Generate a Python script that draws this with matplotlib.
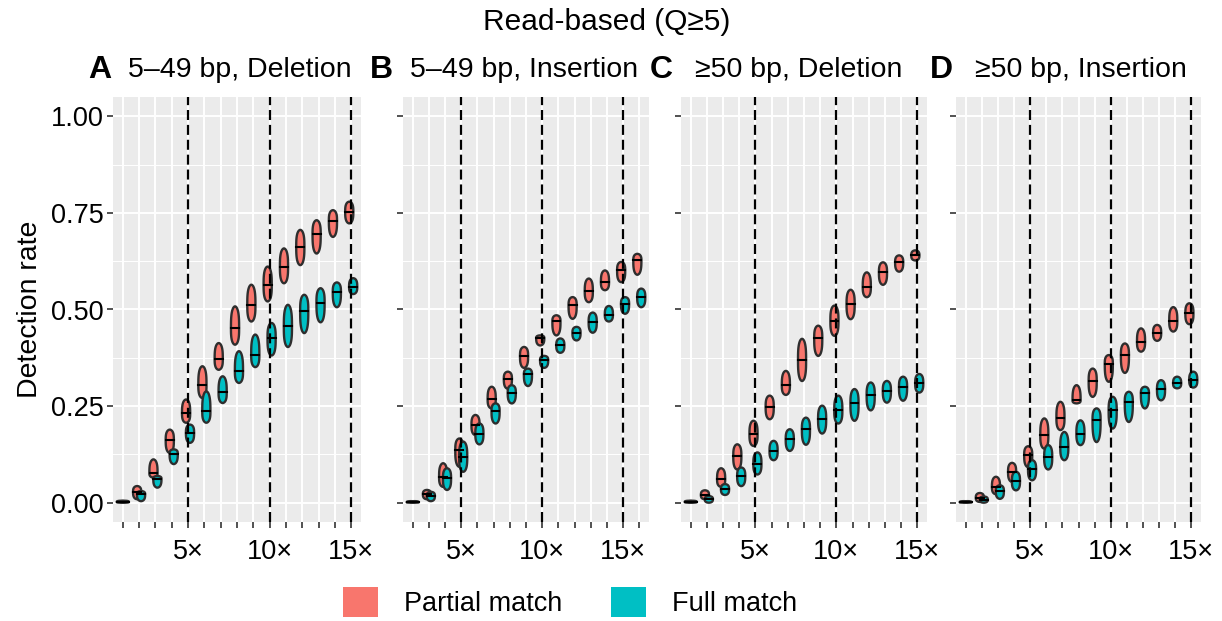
import numpy as np
import matplotlib
matplotlib.use('Agg')
import matplotlib.pyplot as plt
from matplotlib.patches import Patch

plt.rcParams['font.family'] = ['Liberation Sans', 'DejaVu Sans']

# coverage levels 1..15 (discrete positions)
positions = list(range(1, 16))

# per panel: (low, median, high) of detection rate
# Panel A: 5-49 bp, Deletion
a_part_lo = [0.000, 0.009, 0.065, 0.129, 0.207, 0.271, 0.344, 0.409, 0.469, 0.521, 0.568, 0.615, 0.645, 0.688, 0.723]
a_part_md = [0.002, 0.028, 0.077, 0.162, 0.232, 0.305, 0.372, 0.452, 0.512, 0.564, 0.611, 0.663, 0.695, 0.730, 0.753]
a_part_hi = [0.005, 0.043, 0.112, 0.189, 0.267, 0.353, 0.413, 0.508, 0.564, 0.611, 0.658, 0.706, 0.731, 0.757, 0.779]
a_full_lo = [0.000, 0.004, 0.039, 0.100, 0.155, 0.207, 0.258, 0.310, 0.351, 0.381, 0.403, 0.439, 0.467, 0.506, 0.540]
a_full_md = [0.002, 0.022, 0.062, 0.127, 0.181, 0.237, 0.286, 0.340, 0.383, 0.426, 0.456, 0.497, 0.518, 0.546, 0.559]
a_full_hi = [0.005, 0.030, 0.069, 0.138, 0.202, 0.288, 0.327, 0.392, 0.435, 0.465, 0.512, 0.538, 0.555, 0.570, 0.581]

# Panel B: 5-49 bp, Insertion
b_part_lo = [0.000, 0.009, 0.041, 0.093, 0.175, 0.244, 0.295, 0.349, 0.407, 0.433, 0.476, 0.519, 0.550, 0.571, 0.590]
b_part_md = [0.001, 0.022, 0.067, 0.136, 0.201, 0.268, 0.321, 0.380, 0.426, 0.469, 0.511, 0.547, 0.571, 0.601, 0.627]
b_part_hi = [0.004, 0.033, 0.102, 0.166, 0.227, 0.300, 0.339, 0.403, 0.433, 0.485, 0.532, 0.580, 0.601, 0.623, 0.644]
b_full_lo = [0.000, 0.004, 0.033, 0.080, 0.151, 0.205, 0.257, 0.302, 0.349, 0.388, 0.420, 0.440, 0.469, 0.489, 0.506]
b_full_md = [0.001, 0.018, 0.063, 0.119, 0.179, 0.237, 0.285, 0.332, 0.369, 0.407, 0.440, 0.468, 0.487, 0.515, 0.532]
b_full_hi = [0.004, 0.028, 0.089, 0.158, 0.205, 0.257, 0.304, 0.347, 0.380, 0.425, 0.455, 0.492, 0.509, 0.532, 0.554]

# Panel C: >=50 bp, Deletion
c_part_lo = [0.000, 0.009, 0.041, 0.086, 0.147, 0.216, 0.279, 0.315, 0.380, 0.432, 0.475, 0.532, 0.564, 0.598, 0.627]
c_part_md = [0.002, 0.020, 0.061, 0.121, 0.177, 0.248, 0.304, 0.369, 0.426, 0.471, 0.514, 0.559, 0.596, 0.622, 0.640]
c_part_hi = [0.005, 0.032, 0.089, 0.151, 0.212, 0.277, 0.341, 0.424, 0.458, 0.510, 0.551, 0.596, 0.622, 0.640, 0.653]
c_full_lo = [0.000, 0.000, 0.020, 0.043, 0.073, 0.110, 0.134, 0.150, 0.179, 0.205, 0.212, 0.239, 0.259, 0.264, 0.285]
c_full_md = [0.002, 0.009, 0.035, 0.069, 0.101, 0.134, 0.164, 0.190, 0.216, 0.239, 0.257, 0.279, 0.290, 0.300, 0.309]
c_full_hi = [0.005, 0.017, 0.048, 0.091, 0.130, 0.160, 0.190, 0.220, 0.251, 0.277, 0.294, 0.311, 0.315, 0.326, 0.333]

# Panel D: >=50 bp, Insertion
d_part_lo = [0.000, 0.002, 0.022, 0.054, 0.092, 0.140, 0.188, 0.257, 0.274, 0.313, 0.336, 0.391, 0.419, 0.443, 0.462]
d_part_md = [0.001, 0.013, 0.041, 0.080, 0.123, 0.175, 0.220, 0.265, 0.315, 0.360, 0.382, 0.417, 0.440, 0.471, 0.490]
d_part_hi = [0.004, 0.025, 0.067, 0.103, 0.146, 0.218, 0.261, 0.304, 0.347, 0.382, 0.412, 0.451, 0.460, 0.506, 0.516]
d_full_lo = [0.000, 0.000, 0.010, 0.032, 0.058, 0.086, 0.110, 0.149, 0.157, 0.192, 0.209, 0.244, 0.265, 0.296, 0.298]
d_full_md = [0.001, 0.008, 0.030, 0.056, 0.086, 0.118, 0.144, 0.179, 0.215, 0.239, 0.261, 0.283, 0.293, 0.309, 0.317]
d_full_hi = [0.004, 0.016, 0.045, 0.080, 0.110, 0.149, 0.183, 0.213, 0.244, 0.274, 0.287, 0.300, 0.317, 0.326, 0.339]

letters = ['A', 'B', 'C', 'D']
titles = ['5\u201349 bp, Deletion', '5\u201349 bp, Insertion', '\u226550 bp, Deletion', '\u226550 bp, Insertion']
# where the 5x / 10x / 15x marks fall on each panel's axis
mark_pos = [[5, 10, 15], [4, 9, 14], [5, 10, 15], [5, 10, 15]]
mark_labels = ['5\u00d7', '10\u00d7', '15\u00d7']

panel_data = [
    (a_part_lo, a_part_md, a_part_hi, a_full_lo, a_full_md, a_full_hi),
    (b_part_lo, b_part_md, b_part_hi, b_full_lo, b_full_md, b_full_hi),
    (c_part_lo, c_part_md, c_part_hi, c_full_lo, c_full_md, c_full_hi),
    (d_part_lo, d_part_md, d_part_hi, d_full_lo, d_full_md, d_full_hi),
]

col_part = '#F8766D'
col_full = '#00BFC4'

W, H = 1222, 621
fig = plt.figure(figsize=(W / 100, H / 100), dpi=100)

# panel boxes in pixels: left, right
boxes = [(113, 361), (403, 649), (681, 927), (956, 1201)]
top_px, bot_px = 97, 522


def violin(ax, xc, lo, md, hi, color, hw=0.25):
    y = np.linspace(lo, hi, 80)
    # widest around the median, rounded ends
    s = np.where(y < md, 0.5 * (y - lo) / max(md - lo, 1e-9),
                 0.5 + 0.5 * (y - md) / max(hi - md, 1e-9))
    w = hw * np.clip(1 - np.abs(2 * s - 1) ** 3, 0, 1) ** (1 / 2.0)
    w = np.maximum(w, 0.03)
    ax.fill(np.r_[xc - w, (xc + w)[::-1]], np.r_[y, y[::-1]],
            fc=color, ec='#2e2e2e', lw=1.7, zorder=3, joinstyle='round')
    ax.plot([xc - hw * 0.97, xc + hw * 0.97], [md, md], color='black', lw=1.5, zorder=4)


axes = []
for i in range(4):
    l, r = boxes[i]
    ax = fig.add_axes([l / W, 1 - bot_px / H, (r - l) / W, (bot_px - top_px) / H])
    axes.append(ax)
    ax.set_facecolor('#EBEBEB')
    for sp in ax.spines.values():
        sp.set_visible(False)
    ax.set_xlim(0.4, 15.6)
    ax.set_ylim(-0.05, 1.05)

    # grid
    for yv in [0.125, 0.375, 0.625, 0.875]:
        ax.axhline(yv, color='white', lw=0.7, zorder=1)
    for yv in [0, 0.25, 0.5, 0.75, 1.0]:
        ax.axhline(yv, color='white', lw=1.4, zorder=1)
    for xv in positions:
        ax.axvline(xv, color='white', lw=1.4, zorder=1)

    plo, pmd, phi, flo, fmd, fhi = panel_data[i]
    for k, xv in enumerate(positions):
        violin(ax, xv - 0.12, plo[k], pmd[k], phi[k], col_part)
        violin(ax, xv + 0.12, flo[k], fmd[k], fhi[k], col_full)

    for xv in mark_pos[i]:
        ax.axvline(xv, color='black', lw=1.6, ls=(0, (4.5, 2.2)), zorder=5)

    ax.set_xticks(positions)
    ax.set_xticklabels([mark_labels[mark_pos[i].index(p)] if p in mark_pos[i] else '' for p in positions])
    ax.set_yticks([0, 0.25, 0.5, 0.75, 1.0])
    if i == 0:
        ax.set_yticklabels(['0.00', '0.25', '0.50', '0.75', '1.00'])
        ax.set_ylabel('Detection rate', fontsize=20.5, labelpad=5)
    else:
        ax.set_yticklabels([])
    ax.tick_params(axis='both', length=4, width=1.2, color='#333333', labelsize=19.5,
                   labelcolor='black', pad=3)
    ax.tick_params(axis='x', pad=8)

# panel titles
letter_x = [88, 370, 650, 930]
text_x = [128, 410, 695, 975]
for i in range(4):
    fig.text(letter_x[i] / W, 1 - 70 / H, letters[i], fontsize=23, fontweight='bold',
             ha='left', va='center')
    fig.text(text_x[i] / W, 1 - 70 / H, titles[i], fontsize=20.5, ha='left', va='center')

fig.text(607 / W, 1 - 22 / H, 'Read-based (Q\u22655)', fontsize=21.5, ha='center', va='center')

handles = [Patch(fc=col_part, ec='none'), Patch(fc=col_full, ec='none')]
fig.legend(handles, ['Partial match', 'Full match'], loc='center', ncol=2,
           bbox_to_anchor=(570 / W, 1 - 602 / H), frameon=False, fontsize=19.5,
           handlelength=1.3, handleheight=1.3, handletextpad=0.95, columnspacing=1.8)

fig.savefig('out.png', dpi=100)
